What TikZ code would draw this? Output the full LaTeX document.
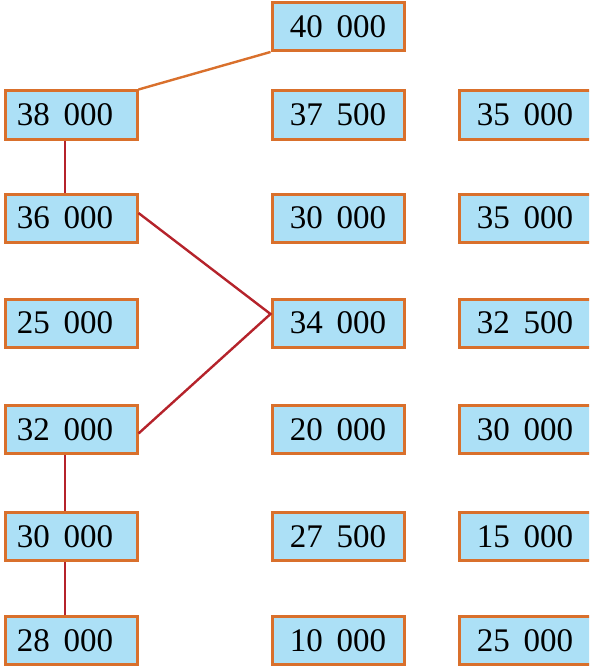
\documentclass[tikz,border=0pt]{standalone}
\usepackage{fontspec}
\setmainfont{Liberation Serif}
\definecolor{boxfill}{HTML}{ACE0F6}
\definecolor{boxline}{HTML}{D9702C}
\definecolor{pathred}{HTML}{B5232B}
\newcommand{\gp}{\hspace{0.42em}}
\tikzset{
  salary/.style={draw=boxline, fill=boxfill, line width=3pt, minimum width=132pt,
    minimum height=48pt, inner sep=0pt, font=\fontsize{33}{36}\selectfont},
  leftcol/.style={salary, execute at end node=\kern12pt},
  link/.style={line width=2.4pt}
}
\begin{document}
\begin{tikzpicture}[x=1pt,y=-1pt]
    \useasboundingbox (0,0) rectangle (589,666);
    \clip (0,0) rectangle (589,666);
    \node[salary] (top) at (338,26.5) {40\gp000};
    % left column
    \node[leftcol] (l1) at (71,115) {38\gp000};
    \node[leftcol] (l2) at (71,218) {36\gp000};
    \node[leftcol] (l3) at (71,323) {25\gp000};
    \node[leftcol] (l4) at (71,429.5) {32\gp000};
    \node[leftcol] (l5) at (71,536.5) {30\gp000};
    \node[leftcol] (l6) at (71,640.5) {28\gp000};
    % middle column
    \node[salary] (m1) at (338,115) {37\gp500};
    \node[salary] (m2) at (338,218) {30\gp000};
    \node[salary] (m3) at (338,323) {34\gp000};
    \node[salary] (m4) at (338,429.5) {20\gp000};
    \node[salary] (m5) at (338,536.5) {27\gp500};
    \node[salary] (m6) at (338,640.5) {10\gp000};
    % right column
    \node[salary] (r1) at (525,115) {35\gp000};
    \node[salary] (r2) at (525,218) {35\gp000};
    \node[salary] (r3) at (525,323) {32\gp500};
    \node[salary] (r4) at (525,429.5) {30\gp000};
    \node[salary] (r5) at (525,536.5) {15\gp000};
    \node[salary] (r6) at (525,640.5) {25\gp000};
    \draw[link, boxline] (top.south west) -- (l1.north east);
    \draw[link, pathred] ([xshift=-6pt]l1.south) -- ([xshift=-6pt]l2.north);
    \draw[link, pathred] ([yshift=5pt]l2.east) -- ([yshift=9pt]m3.west) -- ([yshift=-4pt]l4.east);
    \draw[link, pathred] ([xshift=-6pt]l4.south) -- ([xshift=-6pt]l5.north);
    \draw[link, pathred] ([xshift=-6pt]l5.south) -- ([xshift=-6pt]l6.north);
\end{tikzpicture}
\end{document}
